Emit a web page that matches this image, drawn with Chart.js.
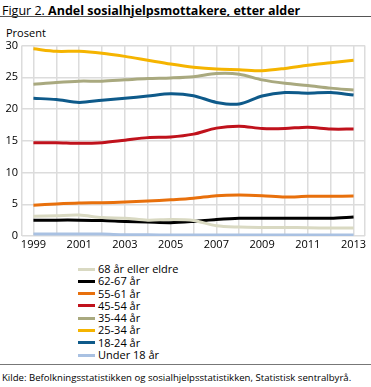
<!DOCTYPE html>
<html>
<head>
<meta charset="utf-8">
<script src="https://cdn.jsdelivr.net/npm/chart.js@4"></script>
<style>
  body { margin: 0; width: 371px; height: 387px; background: #fff; font-family: "Open Sans", sans-serif; color: #000; position: relative; overflow: hidden; }
  #title { position: absolute; left: 2px; top: 2px; font-size: 12.5px; white-space: nowrap; }
  #rule1 { position: absolute; left: 0; top: 16px; width: 371px; height: 1px; background: #555; }
  #unit { position: absolute; left: 6px; top: 25px; font-size: 11px; }
  #wrap { position: absolute; left: 0; top: 35px; width: 371px; height: 219px; }
  #legend { position: absolute; left: 78px; top: 263px; font-size: 11px; }
  .item { height: 12.3px; line-height: 12.3px; white-space: nowrap; }
  .sw { display: inline-block; width: 17px; height: 3px; vertical-align: middle; margin-right: 3px; position: relative; top: -1px; }
  #rule2 { position: absolute; left: 0; top: 364px; width: 371px; height: 1px; background: #777; }
  #source { position: absolute; left: 2px; top: 371px; font-size: 9.6px; white-space: nowrap; }
</style>
</head>
<body>
<div id="title">Figur 2. <b>Andel sosialhjelpsmottakere, etter alder</b></div>
<div id="rule1"></div>
<div id="unit">Prosent</div>
<div id="wrap"><canvas id="myChart"></canvas></div>
<div id="legend"></div>
<div id="rule2"></div>
<div id="source">Kilde: Befolkningsstatistikken og sosialhjelpsstatistikken, Statistisk sentralbyrå.</div>
<script>
const years = [1999, 2000, 2001, 2002, 2003, 2004, 2005, 2006, 2007, 2008, 2009, 2010, 2011, 2012, 2013];

const age68 = [3.1, 3.2, 3.3, 2.9, 2.8, 2.5, 2.6, 2.45, 1.6, 1.4, 1.35, 1.35, 1.3, 1.25, 1.25];
const age62 = [2.5, 2.5, 2.5, 2.45, 2.3, 2.2, 2.1, 2.3, 2.6, 2.8, 2.8, 2.8, 2.8, 2.8, 3.0];
const age55 = [4.85, 5.05, 5.2, 5.25, 5.35, 5.5, 5.7, 5.95, 6.35, 6.45, 6.35, 6.15, 6.25, 6.25, 6.3];
const age45 = [14.7, 14.7, 14.6, 14.7, 15.1, 15.5, 15.6, 16.05, 17.0, 17.3, 16.95, 16.95, 17.15, 16.85, 16.85];
const age35 = [23.9, 24.2, 24.4, 24.4, 24.6, 24.8, 24.9, 25.1, 25.6, 25.5, 24.6, 24.05, 23.7, 23.3, 23.0];
const age25 = [29.5, 29.1, 29.1, 28.8, 28.3, 27.7, 27.1, 26.6, 26.3, 26.2, 26.05, 26.4, 26.9, 27.3, 27.7];
const age18 = [21.7, 21.5, 21.05, 21.4, 21.7, 22.05, 22.4, 22.1, 21.05, 20.8, 22.05, 22.6, 22.5, 22.6, 22.2];
const under18 = [0.3, 0.3, 0.3, 0.3, 0.2, 0.2, 0.15, 0.15, 0.15, 0.15, 0.15, 0.15, 0.15, 0.15, 0.15];

const yTicks = [0, 5, 10, 15, 20, 25, 30];

// legend order top to bottom
const series = [
  { label: '68 år eller eldre', data: age68, color: '#d9d9c2' },
  { label: '62-67 år', data: age62, color: '#000000' },
  { label: '55-61 år', data: age55, color: '#e8700c' },
  { label: '45-54 år', data: age45, color: '#c0121c' },
  { label: '35-44 år', data: age35, color: '#a9a97f' },
  { label: '25-34 år', data: age25, color: '#f5b400' },
  { label: '18-24 år', data: age18, color: '#0e5a8a' },
  { label: 'Under 18 år', data: under18, color: '#a9c1e2' }
];

let legend = document.getElementById('legend');
series.forEach(s => {
  let d = document.createElement('div');
  d.className = 'item';
  d.innerHTML = '<span class="sw" style="background:' + s.color + '"></span>' + s.label;
  legend.appendChild(d);
});

let ctx = document.getElementById('myChart').getContext('2d');
new Chart(ctx, {
  type: 'line',
  data: {
    datasets: series.map(s => ({
      label: s.label,
      data: s.data.map((v, i) => ({ x: years[i], y: v })),
      borderColor: s.color,
      backgroundColor: s.color,
      borderWidth: 3,
      pointRadius: 0,
      tension: 0.3,
      fill: false
    }))
  },
  options: {
    responsive: true,
    maintainAspectRatio: false,
    animation: false,
    layout: { padding: { top: 0, right: 6, left: 0, bottom: 0 } },
    plugins: { legend: { display: false }, tooltip: { enabled: false } },
    scales: {
      x: {
        type: 'linear',
        min: 1998.5,
        max: 2013.5,
        afterFit: axis => { axis.height = 18; },
        afterBuildTicks: axis => {
          let t = [{ value: 1998.5 }];
          years.forEach(y => t.push({ value: y }));
          t.push({ value: 2013.5 });
          axis.ticks = t;
        },
        ticks: {
          autoSkip: false,
          maxRotation: 0,
          padding: 2,
          color: '#000',
          font: { family: 'Open Sans', size: 11 },
          callback: v => (Number.isInteger(v) && v % 2 === 1) ? String(v) : ''
        },
        grid: { color: '#dcdcdc', lineWidth: 1.5, drawTicks: false },
        border: { display: false }
      },
      y: {
        min: 0,
        max: 30,
        afterFit: axis => { axis.width = 22; },
        afterBuildTicks: axis => { axis.ticks = yTicks.map(v => ({ value: v })); },
        ticks: {
          padding: 4,
          color: '#000',
          font: { family: 'Open Sans', size: 11 }
        },
        grid: { color: '#dcdcdc', lineWidth: 1.5, drawTicks: false },
        border: { display: false }
      }
    }
  }
});
</script>
</body>
</html>
